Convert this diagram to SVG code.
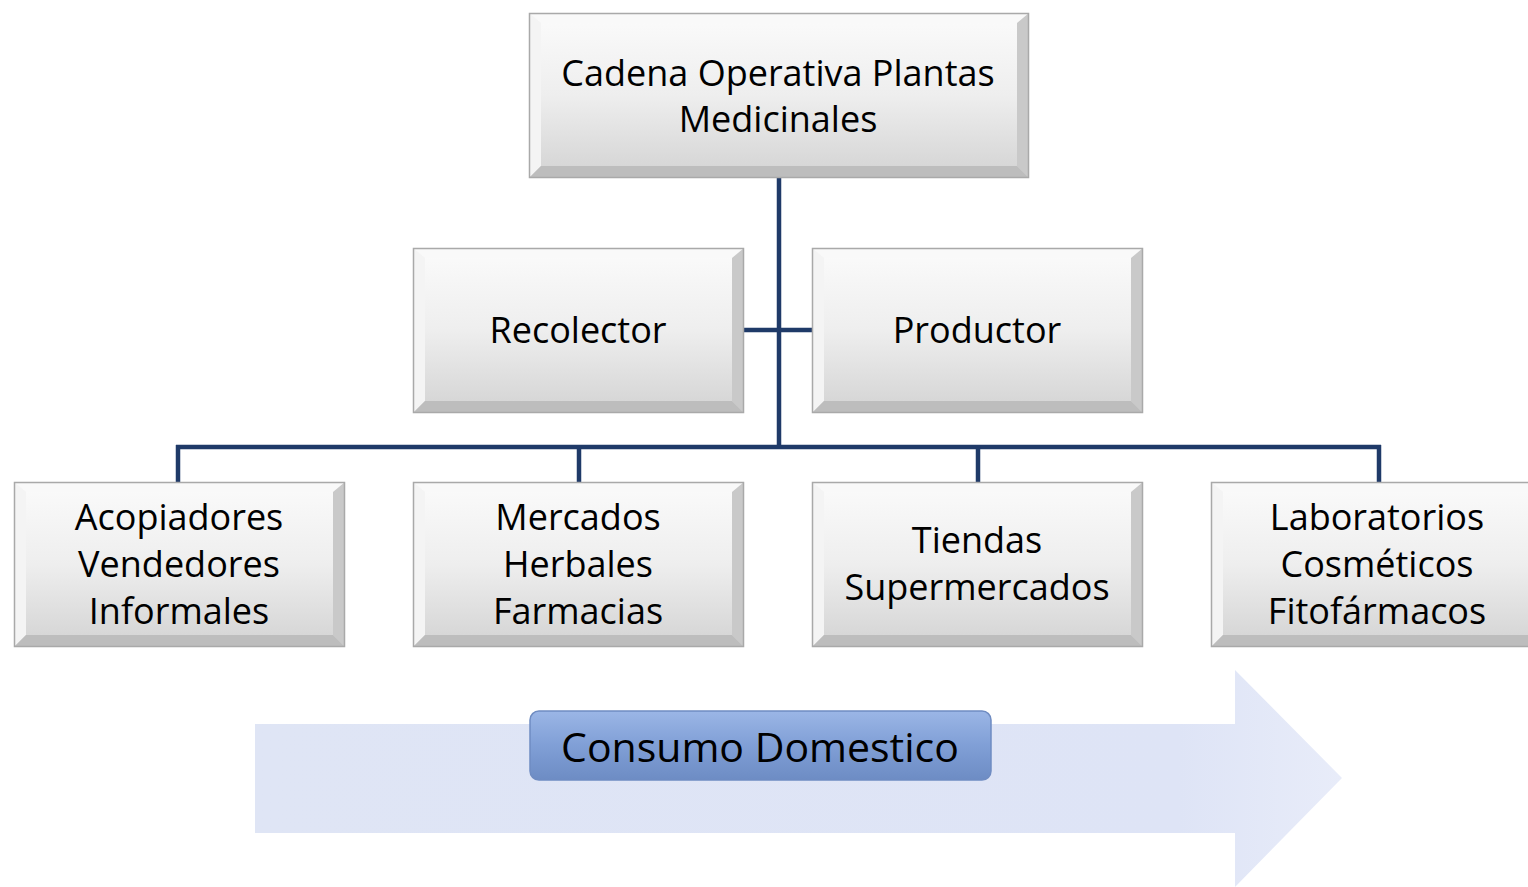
<svg xmlns="http://www.w3.org/2000/svg" width="1528" height="887" viewBox="0 0 1528 887">
<defs>
<linearGradient id="face" x1="0" y1="0" x2="0" y2="1">
<stop offset="0" stop-color="#fbfbfb"/><stop offset="0.5" stop-color="#eeeeee"/><stop offset="1" stop-color="#d3d3d3"/>
</linearGradient>
<linearGradient id="arrowG" x1="0" y1="0" x2="1" y2="0">
<stop offset="0" stop-color="#dfe5f5"/><stop offset="0.85" stop-color="#dee4f6"/><stop offset="1" stop-color="#e8ecf9"/>
</linearGradient>
<linearGradient id="pill" x1="0" y1="0" x2="0" y2="1">
<stop offset="0" stop-color="#9bb6e6"/><stop offset="0.5" stop-color="#809fd6"/><stop offset="1" stop-color="#6d8cc4"/>
</linearGradient>
<g id="bev">
<rect x="0" y="0" width="331" height="165" fill="url(#face)"/>
<polygon points="0,0 331,0 319,10 12,10" fill="#f9f9f9"/>
<polygon points="0,0 12,10 12,153 0,165" fill="#f4f4f4"/>
<polygon points="331,0 331,165 319,153 319,10" fill="#c9c9c9"/>
<polygon points="0,165 12,153 319,153 331,165" fill="#bdbdbd"/>
<rect x="0.5" y="0.5" width="330" height="164" fill="none" stroke="#a9a9a9" stroke-width="1.5"/>
</g>
<style>
.t{font-family:"Open Sans","Noto Sans",sans-serif;font-size:36px;fill:#000;text-anchor:middle}
.c{fill:none;stroke:#1f3a68;stroke-width:4.5}
</style>
</defs>
<rect width="1528" height="887" fill="#fff"/>

<g id="arrow">
<polygon points="255,724 1235,724 1235,670 1342,778 1235,887 1235,833 255,833" fill="url(#arrowG)"/>
</g>

<g id="connectors">
<line class="c" x1="779" y1="178" x2="779" y2="449"/>
<line class="c" x1="744" y1="330" x2="812" y2="330"/>
<line class="c" x1="176" y1="447" x2="1381" y2="447"/>
<line class="c" x1="178" y1="445" x2="178" y2="482"/>
<line class="c" x1="579" y1="445" x2="579" y2="482"/>
<line class="c" x1="978" y1="445" x2="978" y2="482"/>
<line class="c" x1="1379" y1="445" x2="1379" y2="482"/>
</g>

<g id="root">
<rect x="529" y="13" width="500" height="165" fill="url(#face)"/>
<polygon points="529,13 1029,13 1017,23 541,23" fill="#f9f9f9"/>
<polygon points="529,13 541,23 541,166 529,178" fill="#f4f4f4"/>
<polygon points="1029,13 1029,178 1017,166 1017,23" fill="#c9c9c9"/>
<polygon points="529,178 541,166 1017,166 1029,178" fill="#bdbdbd"/>
<rect x="529.5" y="13.5" width="499" height="164" fill="none" stroke="#a9a9a9" stroke-width="1.5"/>
<text class="t" x="778" y="86">Cadena Operativa Plantas</text>
<text class="t" x="778" y="132">Medicinales</text>
</g>

<g id="recolector">
<use href="#bev" x="413" y="248"/>
<text class="t" x="578" y="343">Recolector</text>
</g>
<g id="productor">
<use href="#bev" x="812" y="248"/>
<text class="t" x="977" y="343">Productor</text>
</g>

<g id="acopiadores">
<use href="#bev" x="14" y="482"/>
<text class="t" x="179" y="530">Acopiadores</text>
<text class="t" x="179" y="577">Vendedores</text>
<text class="t" x="179" y="624">Informales</text>
</g>
<g id="mercados">
<use href="#bev" x="413" y="482"/>
<text class="t" x="578" y="530">Mercados</text>
<text class="t" x="578" y="577">Herbales</text>
<text class="t" x="578" y="624">Farmacias</text>
</g>
<g id="tiendas">
<use href="#bev" x="812" y="482"/>
<text class="t" x="977" y="553">Tiendas</text>
<text class="t" x="977" y="600">Supermercados</text>
</g>
<g id="laboratorios">
<use href="#bev" x="1211" y="482"/>
<text class="t" x="1377" y="530">Laboratorios</text>
<text class="t" x="1377" y="577">Cosméticos</text>
<text class="t" x="1377" y="624">Fitofármacos</text>
</g>

<g id="consumo">
<rect x="530" y="711" width="461" height="69" rx="9" fill="url(#pill)" stroke="#6f8cc2" stroke-width="1.5"/>
<text class="t" x="760" y="762" style="font-size:41px">Consumo Domestico</text>
</g>
</svg>
